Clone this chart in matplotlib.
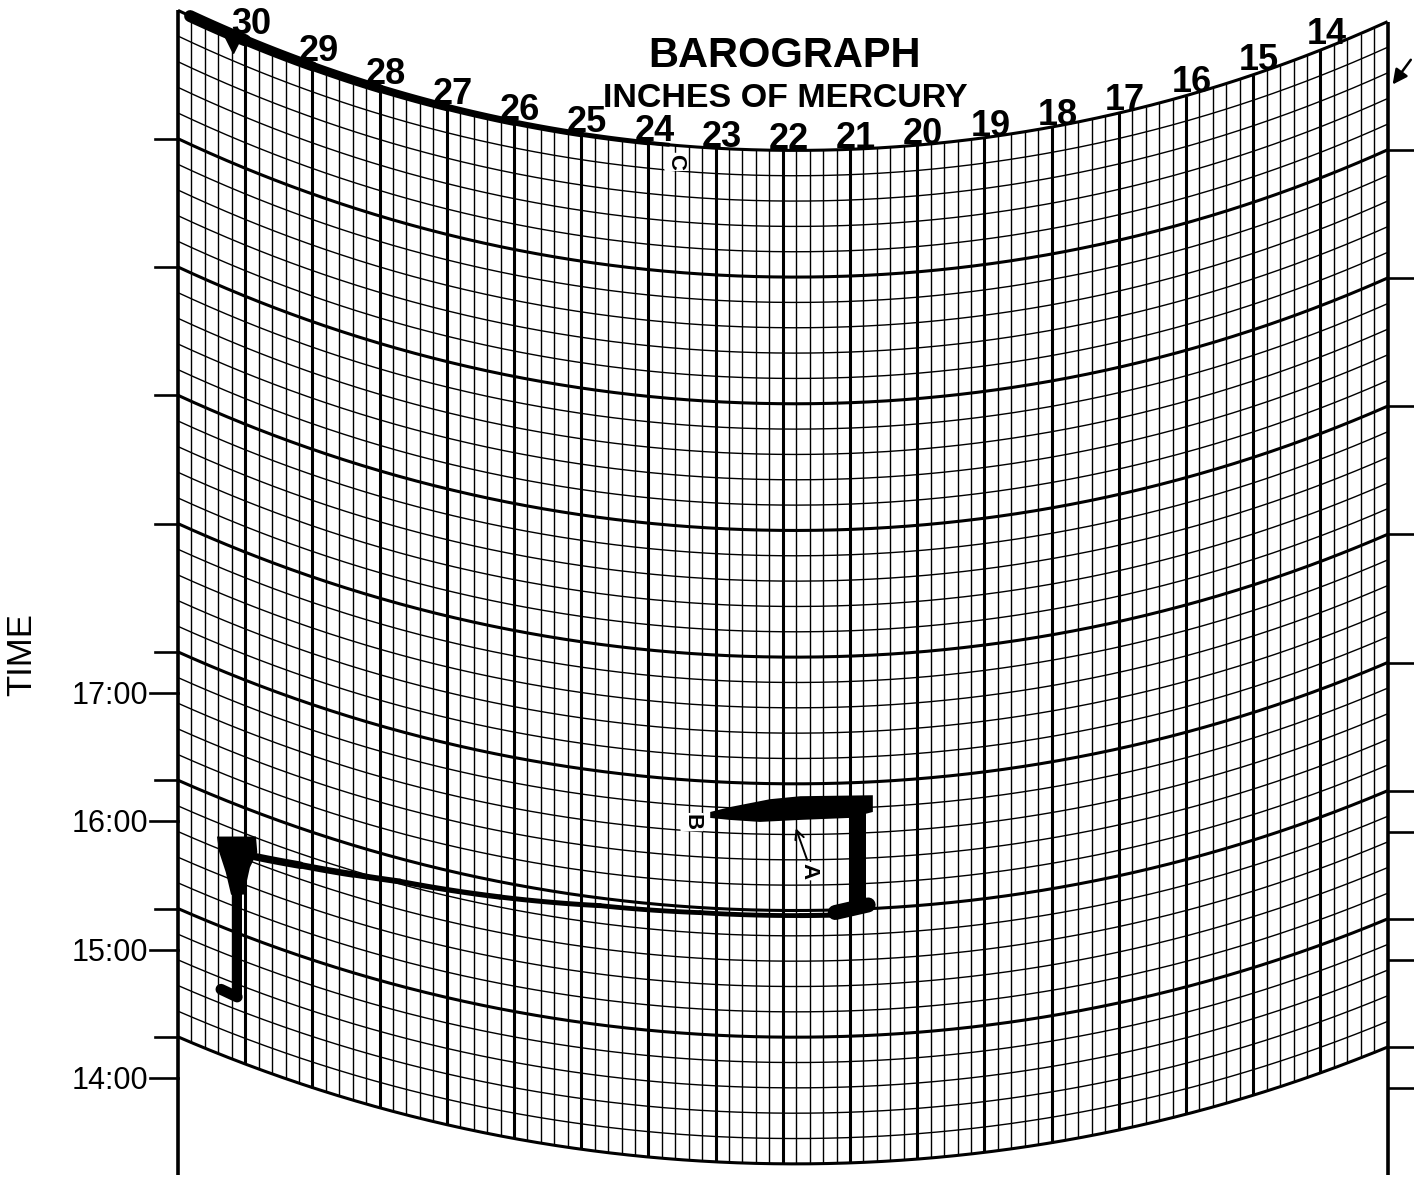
import numpy as np
import matplotlib
matplotlib.use("Agg")
import matplotlib.pyplot as plt
from matplotlib import font_manager

# ---------------- data ----------------
pressure_scale = [30, 29, 28, 27, 26, 25, 24, 23, 22, 21, 20, 19, 18, 17, 16, 15, 14]
pressure_labels = ["30", "29", "28", "27", "26", "25", "24", "23", "22",
                   "21", "20", "19", "18", "17", "16", "15", "14"]
time_ticks = [17, 16, 15, 14]
time_labels = ["17:00", "16:00", "15:00", "14:00"]
right_time_ticks = [16, 15, 14]

# hour arcs of the printed grid (time where the arc meets the left edge, h)
hour_arcs = [14.32, 15.32, 16.32, 17.32, 18.32, 19.32, 20.32, 21.32, 22.32]

# pen traces: pressure (in Hg) and time (h)
top_trace_pressure = [30.82, 30.0, 29.0, 28.0, 27.0, 26.0, 25.0, 24.0, 23.7]
top_trace_time = [22.32, 22.32, 22.32, 22.32, 22.32, 22.32, 22.32, 22.32, 22.32]

stem_pressure = [30.12, 30.12]
stem_time = [14.82, 15.73]
foot_pressure = [30.36, 30.12]
foot_time = [14.83, 14.82]
funnel_pressure = [30.42, 29.84, 29.82, 29.93, 30.02, 30.21, 30.29, 30.39]
funnel_time = [16.01, 16.13, 16.01, 15.87, 15.64, 15.60, 15.76, 15.90]
swing_pressure = [29.85, 29.18, 28.40, 27.70, 26.21, 24.72, 23.23, 21.74, 21.07]
swing_time = [15.97, 16.03, 16.09, 16.14, 16.20, 16.26, 16.28, 16.28, 16.28]
corner_pressure = [21.22, 20.73]
corner_time = [16.30, 16.35]
rise_pressure = [20.90, 20.90]
rise_time = [16.30, 17.18]
return_pressure = [23.08, 22.79, 22.19, 21.74, 20.66, 20.66, 21.00, 21.74, 22.34, 22.79, 23.08]
return_time = [17.079, 17.125, 17.197, 17.222, 17.214, 17.082, 17.043, 17.035, 17.016, 17.024, 17.032]

point_labels = ["A", "B", "C"]
point_pressure = [21.61, 23.35, 23.59]
point_time = [16.63, 16.99, 22.19]
arrow_a_pressure = [21.625, 21.82]
arrow_a_time = [16.70, 16.99]
start_mark_pressure = [30.18]
start_mark_time = [22.24]
edge_arrow_pressure = [12.63, 12.95]
edge_arrow_time = [21.95, 21.80]

# ---------------- chart geometry (style) ----------------
PX_PER_INHG = 67.2
PX_PER_HOUR = 128.3
PEN_RADIUS = 1500.0
P_VERTEX = 21.82
P_LEFT, P_RIGHT = 31.0, 13.0
EDGE_BOTTOM = 13.243
PT = 0.72  # points per pixel at 100 dpi


def _sag(p):
    dx = (np.asarray(p, dtype=float) - P_VERTEX) * PX_PER_INHG
    return PEN_RADIUS - np.sqrt(PEN_RADIUS ** 2 - dx ** 2)


SAG_EDGE = _sag(P_LEFT)


def _sag_left(t):
    return 127.0 + (np.asarray(t, dtype=float) - 14.32) * 13.0 / 8.0


def chart_y(p, t):
    t = np.asarray(t, dtype=float)
    return t - _sag_left(t) * (1.0 - _sag(p) / SAG_EDGE) / PX_PER_HOUR


names = {f.name for f in font_manager.fontManager.ttflist}
SANS = "Liberation Sans" if "Liberation Sans" in names else "DejaVu Sans"
NARROW = "Liberation Sans Narrow" if "Liberation Sans Narrow" in names else None

fig = plt.figure(figsize=(14.14, 11.83), dpi=100)
ax = fig.add_axes([0, 0, 1, 1])
ax.set_xlim(33.649, 12.607)
ax.set_ylim(13.181, 22.401)
ax.axis("off")

K = "black"
ps = np.linspace(P_LEFT, P_RIGHT, 600)
T0, T1 = hour_arcs[0], hour_arcs[-1]

# time arcs
n_arcs = int(round((T1 - T0) / 0.2))
for k in range(n_arcs + 1):
    t = T0 + 0.2 * k
    major = (k % 5 == 0)
    ax.plot(ps, chart_y(ps, t), color=K, lw=(2.2 if major else 1.0), zorder=2,
            solid_capstyle="butt")

# pressure lines
n_v = int(round((P_LEFT - P_RIGHT) / 0.2))
for k in range(n_v + 1):
    p = P_LEFT - 0.2 * k
    edge = k in (0, n_v)
    major = (k % 5 == 0)
    y_top = float(chart_y(p, T1))
    y_bot = EDGE_BOTTOM if edge else float(chart_y(p, T0))
    ax.plot([p, p], [y_bot, y_top], color=K,
            lw=(2.6 if edge else (2.2 if major else 1.0)), zorder=2,
            solid_capstyle="butt")

# edge ticks at the hour arcs
for t in hour_arcs[:-1]:
    ax.plot([P_LEFT + 23 / PX_PER_INHG, P_LEFT], [t, t], color=K, lw=1.9, zorder=2)
    yr = float(chart_y(P_RIGHT, t))
    ax.plot([P_RIGHT, P_RIGHT - 26 / PX_PER_INHG], [yr, yr], color=K, lw=1.9, zorder=2)

# labelled time ticks
for t, lab in zip(time_ticks, time_labels):
    ax.plot([P_LEFT + 28 / PX_PER_INHG, P_LEFT], [t, t], color=K, lw=1.9, zorder=2)
    ax.text(P_LEFT + 30 / PX_PER_INHG, t - 11 / PX_PER_HOUR, lab, ha="right",
            va="baseline", fontsize=22, family=SANS, color=K)
for t in right_time_ticks:
    yr = float(chart_y(P_RIGHT, t))
    ax.plot([P_RIGHT, P_RIGHT - 26 / PX_PER_INHG], [yr, yr], color=K, lw=1.9, zorder=2)

ax.text(P_LEFT + 156 / PX_PER_INHG, 17.30, "TIME", rotation=90, ha="center",
        va="center", fontsize=25, family=SANS, color=K)

# pressure scale labels along the top arc
for p, lab in zip(pressure_scale, pressure_labels):
    g = 1.0 - float(_sag(p) / SAG_EDGE)
    gap = (1.0 + 7.0 * (1.0 - g)) / PX_PER_HOUR
    ax.text(p - 6 / PX_PER_INHG, float(chart_y(p, T1)) + gap, lab, ha="center",
            va="baseline", fontsize=26, fontweight="bold", family=SANS, color=K)

ax.text(21.98, 21.879, "BAROGRAPH", ha="center", va="baseline", fontsize=30,
        fontweight="bold", family=SANS, color=K)
if NARROW:
    ax.text(21.97, 21.567, "INCHES OF MERCURY", ha="center", va="baseline",
            fontsize=28, fontweight="bold", family=NARROW, color=K)
else:
    ax.text(21.97, 21.567, "INCHES OF MERCURY", ha="center", va="baseline",
            fontsize=24.5, fontweight="bold", family=SANS, color=K)

# ---------------- pen traces ----------------
tw = [12, 10, 9, 8, 7, 6, 5, 4]
for i in range(len(top_trace_pressure) - 1):
    pp = np.linspace(top_trace_pressure[i], top_trace_pressure[i + 1], 30)
    tt = np.linspace(top_trace_time[i], top_trace_time[i + 1], 30)
    ax.plot(pp, chart_y(pp, tt), color=K, lw=tw[i] * PT, solid_capstyle="round", zorder=4)

ax.plot(start_mark_pressure, chart_y(start_mark_pressure, start_mark_time), marker="v",
        ms=11, color=K, zorder=5, linestyle="none")

ax.plot(stem_pressure, chart_y(stem_pressure, stem_time), color=K, lw=10 * PT,
        solid_capstyle="butt", zorder=4)
ax.plot(foot_pressure, chart_y(foot_pressure, foot_time), color=K, lw=11 * PT,
        solid_capstyle="round", zorder=4)
ax.fill(funnel_pressure, chart_y(funnel_pressure, funnel_time), color=K, zorder=4, lw=0)

sw = [7.5, 6.5, 5.8, 5.3, 5.0, 4.8, 4.8, 5.0]
for i in range(len(swing_pressure) - 1):
    pp = np.linspace(swing_pressure[i], swing_pressure[i + 1], 20)
    tt = np.linspace(swing_time[i], swing_time[i + 1], 20)
    ax.plot(pp, chart_y(pp, tt), color=K, lw=sw[i] * PT, solid_capstyle="round", zorder=4)
ax.plot(corner_pressure, chart_y(corner_pressure, corner_time), color=K, lw=15 * PT,
        solid_capstyle="round", zorder=4)
ax.plot(rise_pressure, chart_y(rise_pressure, rise_time), color=K, lw=17 * PT,
        solid_capstyle="butt", zorder=4)
ax.fill(return_pressure, chart_y(return_pressure, return_time), color=K, zorder=4, lw=0)

# point annotations
for lab, p, t in zip(point_labels, point_pressure, point_time):
    ax.text(p, float(chart_y(p, t)), lab, rotation=-90, ha="center", va="center",
            fontsize=16, fontweight="bold", family=SANS, color=K, zorder=6,
            bbox=dict(boxstyle="round,pad=0.05", fc="white", ec="none"))
ax.annotate("", xy=(arrow_a_pressure[1], float(chart_y(arrow_a_pressure[1], arrow_a_time[1]))),
            xytext=(arrow_a_pressure[0], float(chart_y(arrow_a_pressure[0], arrow_a_time[0]))),
            arrowprops=dict(arrowstyle="->", color=K, lw=1.4, mutation_scale=16), zorder=6)
ax.annotate("", xy=(edge_arrow_pressure[1], float(chart_y(edge_arrow_pressure[1], edge_arrow_time[1]))),
            xytext=(edge_arrow_pressure[0], float(chart_y(edge_arrow_pressure[0], edge_arrow_time[0]))),
            arrowprops=dict(arrowstyle="-|>", color=K, lw=1.8, mutation_scale=22), zorder=6)

fig.savefig("out.png", dpi=100, facecolor="white")
